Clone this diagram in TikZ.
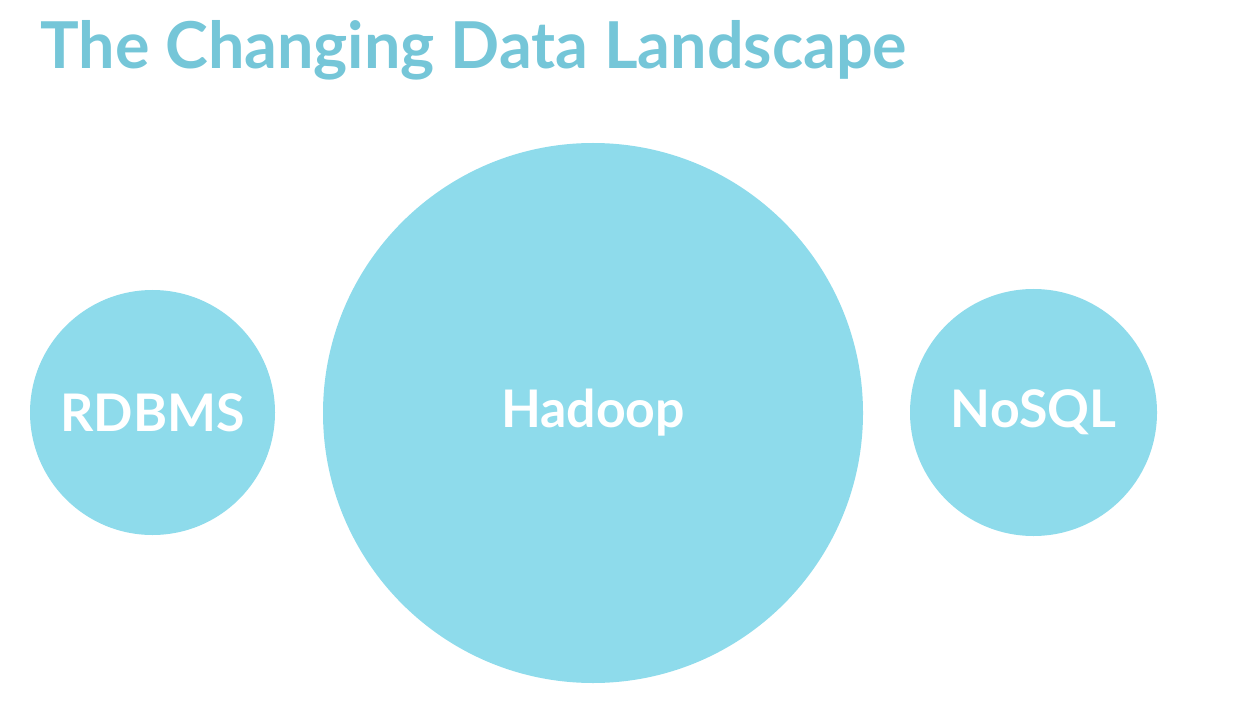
\documentclass[tikz,border=0pt]{standalone}
\usepackage{fontspec}
\setmainfont{Lato}
\usepackage{tikz}
\usetikzlibrary{positioning}
\definecolor{bubble}{HTML}{8EDBEB}
\definecolor{headline}{HTML}{75C6D8}

\begin{document}
\begin{tikzpicture}[x=0.02cm, y=-0.02cm,
  every node/.style = {shape=circle, inner sep=0pt,
    fill=bubble, text=white, align=center,
    font=\bfseries\fontsize{29.5}{35}\selectfont},
  title/.style = {shape=rectangle, fill=none, text=headline,
    anchor=base west, font=\bfseries\fontsize{36.8}{44}\selectfont}
    ]
  \useasboundingbox (0,0) rectangle (1260,709);
  \node[title] (head) at (40,69) {The Changing Data Landscape};
  \node[minimum size=540*0.02cm] (hadoop) at (593,413) {Hadoop};
  \node[minimum size=245*0.02cm] (rdbms) at (152.5,412.5) {RDBMS};
  \node[minimum size=247*0.02cm] (nosql) at (1033.5,412.5) {NoSQL};
\end{tikzpicture}
\end{document}
